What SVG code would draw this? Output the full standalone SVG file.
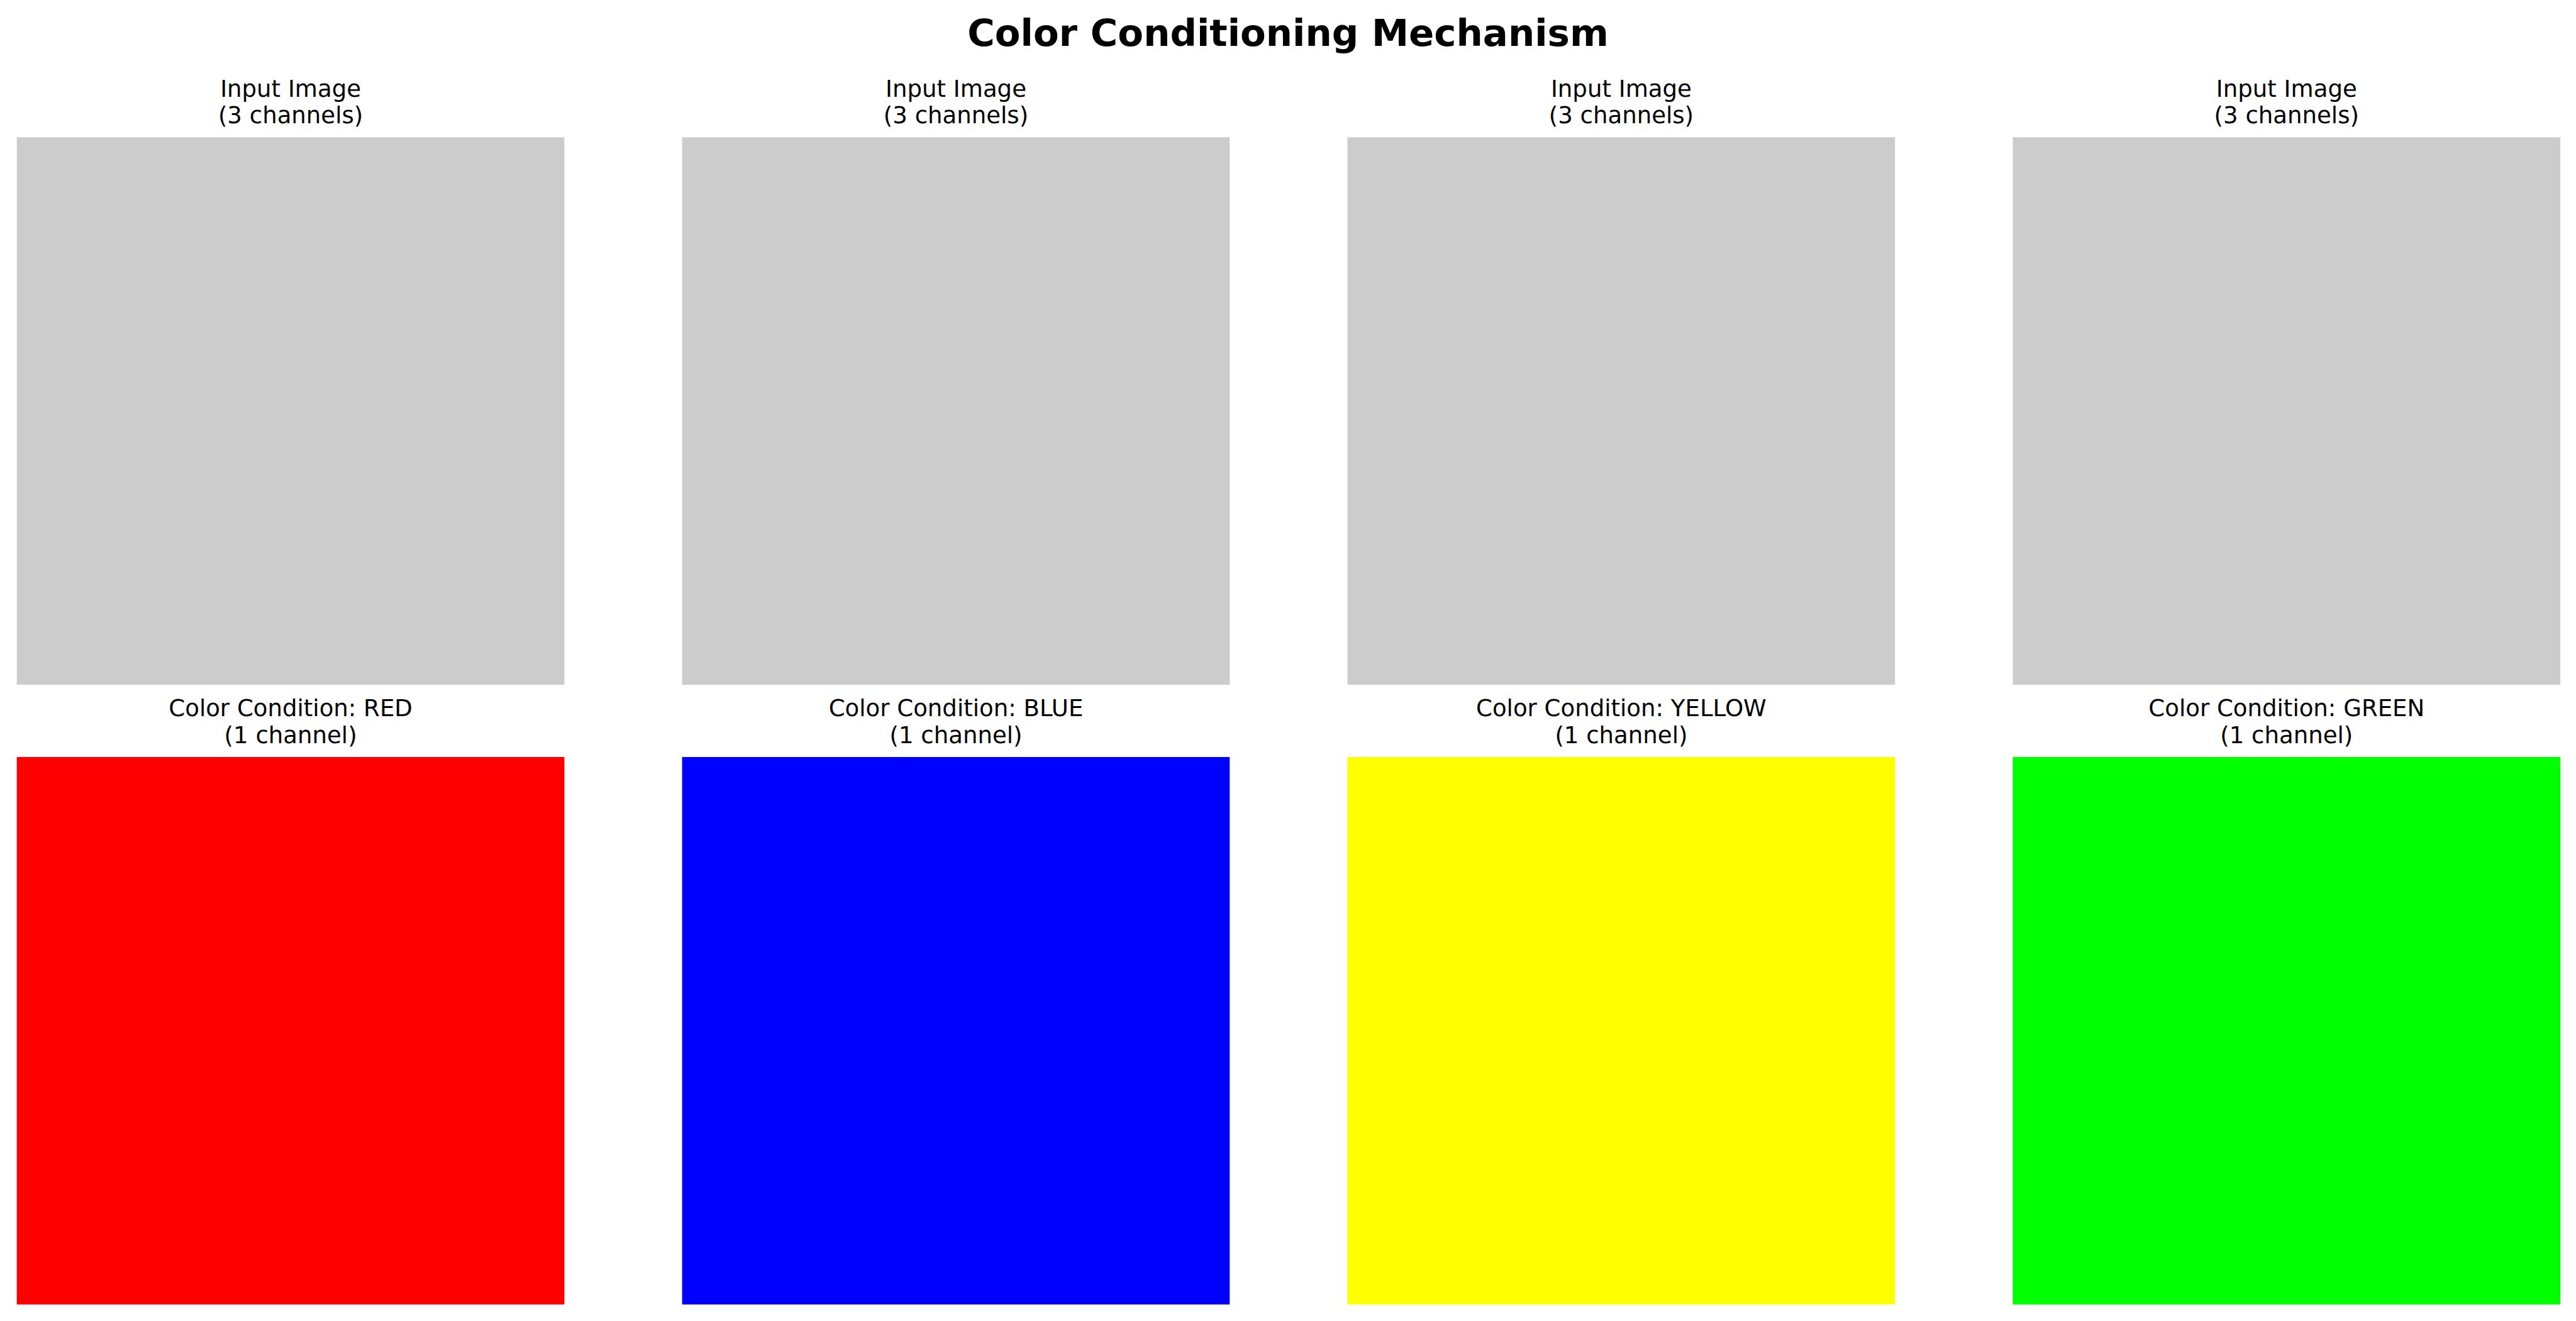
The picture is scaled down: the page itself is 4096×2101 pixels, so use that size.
<svg xmlns="http://www.w3.org/2000/svg" width="4096" height="2101" viewBox="0 0 4096 2101">
<style>
.title{font-family:"DejaVu Sans",sans-serif;font-weight:bold;font-size:59.4px;text-anchor:middle;fill:#000}
.lbl{font-family:"DejaVu Sans",sans-serif;font-size:37.1px;text-anchor:middle;fill:#000}
.in{fill:#cccccc}
</style>
<rect width="4096" height="2101" fill="#ffffff"/>
<text class="title" x="2048" y="73.1">Color Conditioning Mechanism</text>
<g id="input1"><text class="lbl" x="462.1" y="153.6">Input Image</text><text class="lbl" x="462.1" y="196.1">(3 channels)</text><rect class="in" x="26.7" y="218.3" width="870.7" height="870.7"/></g>
<g id="input2"><text class="lbl" x="1520.0" y="153.6">Input Image</text><text class="lbl" x="1520.0" y="196.1">(3 channels)</text><rect class="in" x="1084.6" y="218.3" width="870.7" height="870.7"/></g>
<g id="input3"><text class="lbl" x="2577.9" y="153.6">Input Image</text><text class="lbl" x="2577.9" y="196.1">(3 channels)</text><rect class="in" x="2142.5" y="218.3" width="870.7" height="870.7"/></g>
<g id="input4"><text class="lbl" x="3635.8" y="153.6">Input Image</text><text class="lbl" x="3635.8" y="196.1">(3 channels)</text><rect class="in" x="3200.4" y="218.3" width="870.7" height="870.7"/></g>
<g id="cond-red"><text class="lbl" x="462.1" y="1138.7">Color Condition: RED</text><text class="lbl" x="462.1" y="1181.5">(1 channel)</text><rect x="26.7" y="1204.0" width="870.7" height="870.7" fill="#ff0000"/></g>
<g id="cond-blue"><text class="lbl" x="1520.0" y="1138.7">Color Condition: BLUE</text><text class="lbl" x="1520.0" y="1181.5">(1 channel)</text><rect x="1084.6" y="1204.0" width="870.7" height="870.7" fill="#0000ff"/></g>
<g id="cond-yellow"><text class="lbl" x="2577.9" y="1138.7">Color Condition: YELLOW</text><text class="lbl" x="2577.9" y="1181.5">(1 channel)</text><rect x="2142.5" y="1204.0" width="870.7" height="870.7" fill="#ffff00"/></g>
<g id="cond-green"><text class="lbl" x="3635.8" y="1138.7">Color Condition: GREEN</text><text class="lbl" x="3635.8" y="1181.5">(1 channel)</text><rect x="3200.4" y="1204.0" width="870.7" height="870.7" fill="#00ff00"/></g>
<g id="connectors"/>
</svg>
